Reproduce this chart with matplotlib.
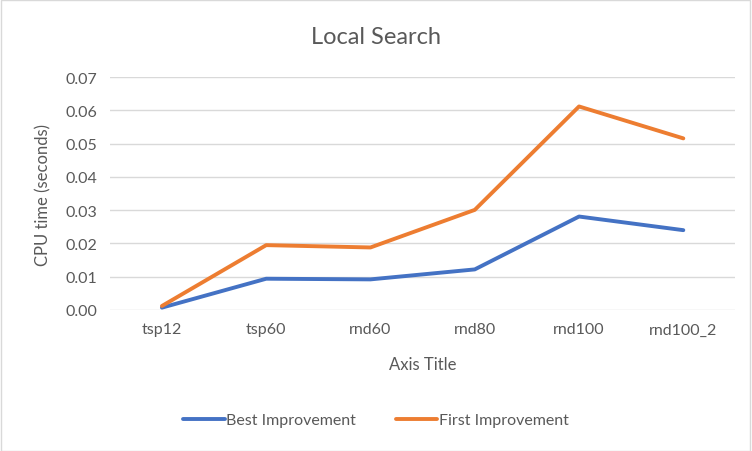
import matplotlib.pyplot as plt
from matplotlib.patches import Rectangle

categories = ["tsp12", "tsp60", "rnd60", "rnd80", "rnd100", "rnd100_2"]
best_improvement = [0.0007, 0.0094, 0.0092, 0.0122, 0.0281, 0.0240]
first_improvement = [0.0012, 0.0195, 0.0188, 0.0301, 0.0612, 0.0516]
y_ticks = [0.00, 0.01, 0.02, 0.03, 0.04, 0.05, 0.06, 0.07]

plt.rcParams['font.family'] = ['Lato', 'DejaVu Sans']
text_color = '#595959'

fig = plt.figure(figsize=(7.52, 4.52), dpi=100)
ax = fig.add_axes([0.146, 0.312, 0.832, 0.515])

x = range(len(categories))
ax.plot(x, best_improvement, color='#4472C4', lw=2.8, solid_capstyle='round',
        solid_joinstyle='round', label='Best Improvement')
ax.plot(x, first_improvement, color='#ED7D31', lw=2.8, solid_capstyle='round',
        solid_joinstyle='round', label='First Improvement')

ax.set_xlim(-0.5, len(categories) - 0.5)
ax.set_ylim(0, 0.07)
ax.set_xticks(list(x))
ax.set_xticklabels(categories)
ax.set_yticks(y_ticks)
ax.set_yticklabels([f"{v:.2f}" for v in y_ticks])
ax.tick_params(length=0, labelsize=11.5, colors=text_color, pad=9)
ax.yaxis.grid(True, color='#D9D9D9', lw=1)
ax.set_axisbelow(True)
for s in ax.spines.values():
    s.set_visible(False)

ax.set_ylabel("CPU time (seconds)", fontsize=12, color=text_color, labelpad=10)
ax.set_xlabel("Axis Title", fontsize=12, color=text_color, labelpad=14)
fig.text(0.5, 0.918, "Local Search", ha='center', va='center', fontsize=17, color=text_color)

fig.legend(loc='center', bbox_to_anchor=(0.5, 0.068), ncol=2, frameon=False,
           fontsize=11.5, labelcolor=text_color, handlelength=2.6, columnspacing=2.5,
           handletextpad=0.1)

fig.patches.append(Rectangle((0.001, 0.001), 0.997, 0.996, transform=fig.transFigure,
                             fill=False, edgecolor='#D9D9D9', lw=1))

fig.savefig("out.png", dpi=100)
